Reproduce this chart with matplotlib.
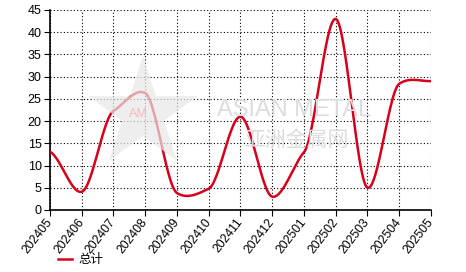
import numpy as np
import matplotlib
matplotlib.use('Agg')
import matplotlib.pyplot as plt
from matplotlib.patches import Polygon

months = ['202405', '202406', '202407', '202408', '202409', '202410', '202411',
          '202412', '202501', '202502', '202503', '202504', '202505']
total = [13.1, 4.1, 22.3, 26.3, 3.8, 4.8, 21.0, 3.0, 13.0, 43.0, 5.0, 28.4, 29.0]

plt.rcParams['font.family'] = ['Liberation Sans', 'Noto Sans CJK SC', 'DejaVu Sans']


def smooth(x, y, n=30, t=0.2):
    # catmull-rom style curve through the points, low tension
    x = np.asarray(x, float)
    y = np.asarray(y, float)
    # end points: reflect the neighbour so the first/last slope is not flat
    yp = np.concatenate([[2 * y[0] - y[1]], y, [2 * y[-1] - y[-2]]])
    xs, ys = [], []
    for i in range(len(x) - 1):
        m1 = t * (yp[i + 2] - yp[i])
        m2 = t * (yp[i + 3] - yp[i + 1])
        s = np.linspace(0, 1, n)
        h00 = 2 * s**3 - 3 * s**2 + 1
        h10 = s**3 - 2 * s**2 + s
        h01 = -2 * s**3 + 3 * s**2
        h11 = s**3 - s**2
        xs.append(x[i] + s * (x[i + 1] - x[i]))
        ys.append(h00 * y[i] + h10 * m1 + h01 * y[i + 1] + h11 * m2)
    return np.concatenate(xs), np.concatenate(ys)


fig = plt.figure(figsize=(4.66, 2.72), dpi=100)
ax = fig.add_axes([50 / 466, 62 / 272, 381 / 466, 200 / 272])

x = np.arange(len(months))
sx, sy = smooth(x, total)
line, = ax.plot(sx, sy, color='#d9001b', lw=1.8, label='总计', zorder=3)

# watermark: star + text
cx, cy, r1, r2 = 143, 158, 58, 22
ang = np.pi / 2 + np.arange(10) * np.pi / 5
rad = np.where(np.arange(10) % 2 == 0, r1, r2)
star = np.column_stack([(cx + rad * np.cos(ang)) / 466, (cy + rad * np.sin(ang)) / 272])
fig.patches.append(Polygon(star, closed=True, transform=fig.transFigure,
                           facecolor='#e8e8e8', edgecolor='none', zorder=0.5, alpha=0.7))
fig.text(138 / 466, 158 / 272, 'AM', fontsize=9, color='#f4b8bd', ha='center', va='center')
fig.text(294 / 466, 162 / 272, 'ASIAN METAL', fontsize=17, color='#dcdcdc',
         ha='center', va='center')
fig.text(296 / 466, 132 / 272, '亚洲金属网', fontsize=15, color='#dcdcdc',
         ha='center', va='center', family=['Noto Sans CJK SC'])
ax.patch.set_alpha(0)

ax.set_xlim(0, len(months) - 1)
ax.set_ylim(0, 45)
ax.set_yticks(np.arange(0, 46, 5))
ax.set_xticks(x)
ax.set_xticklabels(months, rotation=52, ha='right', va='center',
                   rotation_mode='anchor', fontsize=8.8)
ax.tick_params(axis='y', labelsize=9, length=4, pad=2)
ax.tick_params(axis='x', length=4, pad=3)
ax.grid(True, color='#000000', linestyle=(0, (1, 2)), lw=0.8)

for side in ['top', 'right']:
    ax.spines[side].set_visible(False)
ax.spines['left'].set_linewidth(1.2)
ax.spines['bottom'].set_linewidth(1.2)

fig.legend(handles=[line], loc='center left', bbox_to_anchor=(58 / 466, 12 / 272),
           frameon=False, fontsize=9, handlelength=1.15, handletextpad=0.5,
           borderpad=0, borderaxespad=0)

fig.savefig('out.png', dpi=100)
